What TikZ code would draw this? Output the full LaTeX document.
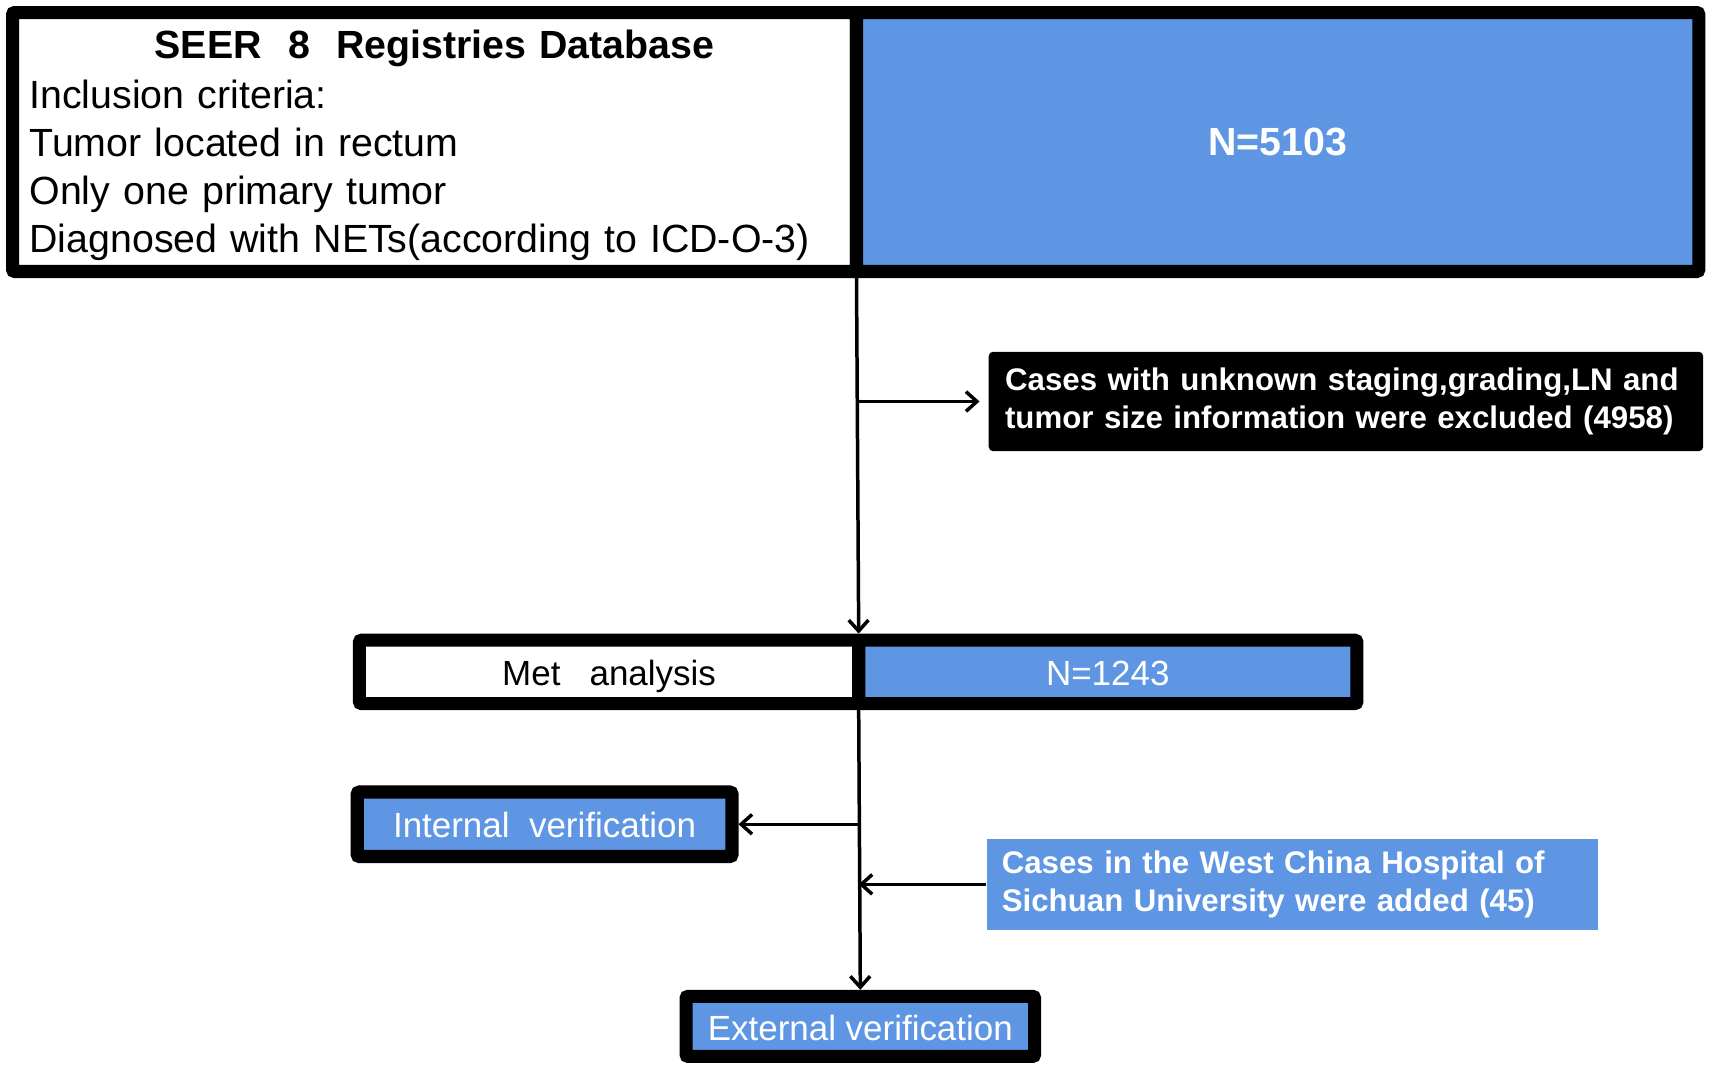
\documentclass[tikz,border=0pt]{standalone}
\usepackage{fontspec}
\setmainfont{Liberation Sans}
\usepackage{tikz}
\usetikzlibrary{arrows.meta}
\usetikzlibrary{positioning}
\usetikzlibrary{calc}
\definecolor{seer blue}{RGB}{94,150,228}
\tikzstyle{arr}=[-{Straight Barb[length=5pt,width=9pt]}, line width=1.6pt]

\begin{document}
\begin{tikzpicture}[
  x=0.5pt, y=-0.5pt,
  part/.style={draw=black, line width=6pt, rounded corners=1pt, outer xsep=0pt, inner sep=0pt},
  white part/.style={part, fill=white, text=black},
  blue part/.style={part, fill=seer blue, text=white},
  one line/.style={text height=15pt, text depth=2.5pt},
  small box/.style={draw=black, line width=6pt, fill=seer blue, text=white, rounded corners=1pt, inner sep=0pt, one line, font=\fontsize{16}{19}\selectfont},
  note/.style={align=left, inner xsep=7.5pt, inner ysep=0pt, text=white, font=\bfseries\fontsize{14.3}{17}\selectfont},
]
\useasboundingbox (0,0) rectangle (1568,978.5);
  % database box
  \node[white part, minimum width=386.25pt, minimum height=118.5pt, text width=370.75pt, align=left,
        font=\fontsize{18}{22}\selectfont] (seer) at (397.75,130)
    {\rule{0pt}{16pt}\makebox[370.75pt][c]{\textbf{SEER\ \ 8\ \ Registries Database}}\\[1pt]
     Inclusion criteria:\\
     Tumor located in rectum\\
     Only one primary tumor\\
     Diagnosed with NETs(according to ICD-O-3)};
  \node[blue part, minimum width=385.5pt, minimum height=118.5pt, font=\bfseries\fontsize{18}{22}\selectfont] (seerN) at (1169.5,130) {N=5103};
  % exclusion
  \node[note, fill=black, rounded corners=2pt, minimum width=327pt, minimum height=45.5pt, text width=312pt] (excl) at (1232,367.5)
    {Cases with unknown staging,grading,LN and\\ tumor size information were excluded (4958)};
  % met analysis
  \node[white part, one line, minimum width=228.5pt, minimum height=29pt, font=\fontsize{16}{19}\selectfont] (met) at (557.5,615) {Met\ \ \ analysis};
  \node[blue part, one line, minimum width=228pt, minimum height=29pt, font=\fontsize{16}{19}\selectfont] (metN) at (1014,615) {N=1243};
  % verification
  \node[small box, minimum width=171.5pt, minimum height=29.5pt] (int) at (498.5,754.5) {Internal\ \ verification};
  \node[note, fill=seer blue, minimum width=280pt, minimum height=41.5pt, text width=266pt, inner xsep=7pt] (added) at (1183,809.5)
    {Cases in the West China Hospital of\\ Sichuan University were added (45)};
  \node[small box, minimum width=159.5pt, minimum height=27.5pt] (ext) at (787.5,939.5) {External verification};

  \draw[arr] (seer.south east) -- (met.north east);
  \draw[arr, shorten >=4pt] (seer.south east |- excl.west) -- (excl.west);
  \draw[arr] (met.south east) -- (ext.north);
  \draw[arr] (met.south east |- int.east) -- (int.east);
  \draw[arr] (added.west) -- (met.south east |- added.west);
\end{tikzpicture}
\end{document}
